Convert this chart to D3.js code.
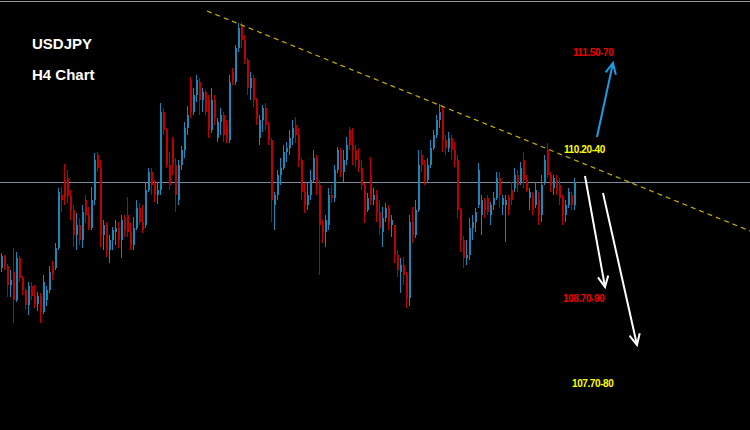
<!DOCTYPE html>
<html><head><meta charset="utf-8">
<script src="https://cdn.jsdelivr.net/npm/d3@7"></script>
<style>html,body{margin:0;padding:0;background:#000;overflow:hidden}</style>
</head><body><svg id="c" width="750" height="430"></svg>
<script>
// H4 candles: [open, high, low, close]
const candles = [
[109.32,109.47,109.28,109.44],[109.44,109.45,109.30,109.34],[109.34,109.36,109.03,109.15],[109.15,109.30,109.03,109.20],
[109.28,109.52,108.77,109.00],[109.00,109.48,108.98,109.42],[109.42,109.44,109.18,109.22],[109.22,109.24,109.05,109.10],
[109.10,109.12,108.90,108.95],[108.95,109.18,108.85,109.14],[109.14,109.18,109.00,109.04],[109.04,109.15,108.92,108.96],
[108.96,109.08,108.89,109.04],[109.04,109.07,108.77,108.88],[108.88,109.25,108.86,109.18],[109.00,109.14,108.94,109.10],
[109.10,109.34,109.07,109.28],[109.34,109.39,109.20,109.26],[109.32,109.57,109.30,109.52],[109.52,110.12,109.50,110.08],
[110.05,110.13,109.88,110.00],[110.20,110.36,109.95,110.02],[110.22,110.30,109.97,110.04],[110.04,110.10,109.80,109.90],
[109.90,109.95,109.53,109.65],[109.65,109.87,109.50,109.75],[109.75,109.82,109.55,109.60],[109.60,109.95,109.52,109.88],
[110.00,110.05,109.77,109.85],[109.85,109.93,109.70,109.72],[109.72,110.13,109.70,110.00],[110.00,110.47,109.95,110.40],
[110.45,110.48,110.28,110.32],[110.32,110.40,109.53,109.65],[109.65,109.80,109.50,109.75],[109.75,109.78,109.43,109.50],
[109.50,109.65,109.37,109.60],[109.60,109.73,109.50,109.70],[109.68,109.80,109.55,109.72],[109.72,109.78,109.52,109.60],
[109.60,109.85,109.42,109.80],[109.82,109.85,109.63,109.70],[109.85,110.03,109.63,109.68],[109.68,109.77,109.50,109.55],
[109.55,109.83,109.50,109.72],[109.72,110.00,109.70,109.92],[109.92,109.97,109.75,109.78],[109.78,109.95,109.67,109.70],
[109.75,110.17,109.72,110.10],[110.10,110.32,110.08,110.28],[110.28,110.32,110.05,110.15],[110.15,110.20,109.98,110.05],
[110.05,110.17,109.96,110.10],[110.10,110.97,110.05,110.88],[110.88,110.92,110.65,110.70],[110.70,110.72,110.32,110.35],
[110.35,110.48,110.10,110.15],[110.60,110.63,110.25,110.35],[110.35,110.42,109.88,110.05],[110.00,110.40,109.95,110.35],
[110.35,110.54,110.30,110.50],[110.50,110.78,110.42,110.72],[110.72,110.94,110.65,110.85],[111.20,111.23,110.82,110.88],
[110.88,111.12,110.85,111.05],[111.05,111.25,110.98,111.20],[111.18,111.22,110.85,111.00],[111.00,111.12,110.88,111.08],
[111.08,111.10,110.85,110.88],[111.00,111.05,110.62,110.70],[110.70,111.12,110.67,111.00],[111.00,111.05,110.75,110.82],
[110.62,110.82,110.58,110.78],[110.78,110.92,110.65,110.85],[110.85,110.88,110.58,110.65],[110.75,110.80,110.57,110.60],
[110.60,111.25,110.57,111.18],[111.28,111.32,111.15,111.18],[111.18,111.55,111.15,111.52],[111.52,111.77,111.48,111.72],
[111.74,111.78,111.52,111.60],[111.60,111.65,111.36,111.40],[111.40,111.42,111.05,111.12],[111.12,111.28,111.00,111.22],
[111.22,111.25,110.93,111.00],[111.00,111.02,110.75,110.82],[110.62,110.85,110.55,110.80],[110.80,110.95,110.68,110.92],
[110.92,110.97,110.70,110.75],[110.75,110.78,110.55,110.60],[110.60,110.62,109.78,110.00],[109.95,110.08,109.70,110.05],
[110.05,110.30,110.00,110.25],[110.25,110.42,110.15,110.32],[110.32,110.55,110.30,110.48],[110.48,110.58,110.38,110.52],
[110.52,110.70,110.45,110.62],[110.62,110.80,110.55,110.72],[110.75,110.83,110.57,110.65],[110.65,110.72,110.33,110.40],
[110.40,110.42,110.00,110.08],[110.08,110.17,109.87,109.95],[109.95,110.17,109.90,110.05],[110.05,110.30,110.00,110.20],
[110.20,110.50,110.18,110.42],[110.42,110.45,110.05,110.15],[110.15,110.20,109.25,109.75],[109.75,109.80,109.57,109.68],
[109.68,109.85,109.53,109.80],[109.75,110.12,109.70,110.05],[110.05,110.15,109.97,110.02],[110.02,110.35,109.98,110.30],
[110.30,110.53,110.27,110.50],[110.50,110.52,110.23,110.28],[110.28,110.50,110.18,110.40],[110.40,110.63,110.35,110.55],
[110.70,110.73,110.50,110.55],[110.55,110.72,110.35,110.50],[110.50,110.55,110.33,110.40],[110.40,110.52,110.28,110.32],
[110.32,110.40,110.10,110.15],[110.15,110.17,109.77,109.85],[109.90,110.07,109.88,110.02],[110.25,110.43,109.95,110.00],
[110.00,110.12,109.95,110.05],[110.05,110.10,109.78,109.88],[109.88,110.00,109.65,109.72],[109.68,109.93,109.53,109.82],
[109.82,109.97,109.78,109.92],[109.92,109.95,109.70,109.78],[109.75,109.85,109.63,109.80],[109.75,109.75,109.37,109.45],
[109.45,109.50,109.23,109.30],[109.28,109.42,109.07,109.35],[109.35,109.43,109.15,109.25],[109.25,109.28,108.92,109.02],
[109.02,109.85,108.94,109.78],[109.78,109.93,109.57,109.65],[109.65,110.00,109.62,109.90],[109.90,110.50,109.88,110.35],
[110.45,110.50,110.28,110.35],[110.35,110.40,110.15,110.20],[110.20,110.42,110.17,110.35],[110.35,110.60,110.32,110.52],
[110.52,110.70,110.50,110.65],[110.65,110.85,110.62,110.80],[110.80,110.96,110.72,110.88],[110.90,110.94,110.48,110.60],
[110.60,110.65,110.45,110.52],[110.52,110.68,110.48,110.62],[110.62,110.65,110.40,110.50],[110.50,110.58,110.33,110.40],
[110.40,110.45,109.82,109.90],[109.90,109.92,109.48,109.60],[109.60,109.64,109.32,109.42],[109.42,109.60,109.35,109.45],
[109.45,109.82,109.40,109.72],[109.72,109.85,109.60,109.78],[109.78,109.92,109.68,109.88],[109.95,110.37,109.92,110.30],
[109.85,110.05,109.65,110.00],[110.00,110.02,109.82,109.90],[110.02,110.05,109.85,109.88],[109.85,109.98,109.75,109.95],
[109.95,110.08,109.90,110.02],[110.02,110.28,110.00,110.22],[110.22,110.28,109.92,110.05],[109.95,110.05,109.85,110.02],
[109.95,110.05,109.58,110.00],[110.02,110.05,109.85,109.90],[110.10,110.18,109.95,110.00],[110.12,110.32,110.08,110.25],
[110.25,110.30,110.08,110.15],[110.18,110.38,110.15,110.32],[110.40,110.48,110.12,110.20],[110.20,110.25,110.08,110.10],
[110.02,110.12,109.90,110.08],[110.05,110.08,109.85,109.90],[109.95,110.18,109.92,110.10],[110.00,110.08,109.75,109.85],
[109.85,110.25,109.78,110.15],[110.18,110.45,110.15,110.40],[110.50,110.57,110.22,110.25],[110.25,110.28,110.08,110.15],
[110.12,110.25,110.05,110.22],[110.20,110.25,110.05,110.10],[110.15,110.22,109.95,110.02],[110.02,110.05,109.75,109.85],
[109.85,110.00,109.78,109.95],[109.95,110.12,109.92,110.08],[110.05,110.08,109.90,109.95],[109.95,110.22,109.90,110.18]
];
// falling resistance trendline: [bar index, price]
const trendline = [[68.5, 111.89], [249.5, 109.69]];
const currentPrice = 110.18;
const titleLines = ["USDJPY", "H4 Chart"];
const levelLabels = ["111.50-70", "110.20-40", "108.70-90", "107.70-80"];
// projection arrows: [bar index, price] from -> to
const arrowPaths = [
  [[198.5, 110.63], [203.83, 111.37]],
  [[194.5, 110.24], [201.17, 109.13]],
  [[200.5, 110.07], [211.83, 108.55]]
];

const W = 750, H = 430;
const svg = d3.select("#c");
svg.append("rect").attr("width", W).attr("height", H).attr("fill", "#000");

const x = d3.scaleLinear().domain([-0.5, 249.5]).range([0, W]);
const y = d3.scaleLinear().domain([112.0, 107.7]).range([0, H]);

// top border
svg.append("line").attr("x1", 0).attr("x2", W).attr("y1", 1.5).attr("y2", 1.5)
  .attr("stroke", "#9a9a9a").attr("stroke-width", 1);

// current price line
svg.append("line").attr("x1", 0).attr("x2", W)
  .attr("y1", Math.round(y(currentPrice)) + 0.5).attr("y2", Math.round(y(currentPrice)) + 0.5)
  .attr("stroke", "#7d8c9c").attr("stroke-width", 1);

const up = "#1b86b8", dn = "#c00000";
const g = svg.append("g");
const cg = g.selectAll("g.c").data(candles).join("g").attr("class", "c");
cg.append("line")
  .attr("x1", (d, i) => Math.floor(x(i)) + 0.5).attr("x2", (d, i) => Math.floor(x(i)) + 0.5)
  .attr("y1", d => y(d[1])).attr("y2", d => y(d[2]))
  .attr("stroke", d => d[3] >= d[0] ? up : dn).attr("stroke-width", 1);
cg.append("rect")
  .attr("x", (d, i) => Math.floor(x(i)))
  .attr("width", 2)
  .attr("y", d => y(Math.max(d[0], d[3])))
  .attr("height", d => Math.max(1, Math.abs(y(d[0]) - y(d[3]))))
  .attr("fill", d => d[3] >= d[0] ? up : dn);

// trendline
svg.append("line")
  .attr("x1", x(trendline[0][0])).attr("y1", y(trendline[0][1]))
  .attr("x2", x(trendline[1][0])).attr("y2", y(trendline[1][1]))
  .attr("stroke", "#c2b000").attr("stroke-width", 1.2).attr("stroke-dasharray", "5,4");

// arrows
const arrowColors = ["#1e9be2", "#ffffff", "#ffffff"];
arrowPaths.forEach((p, k) => {
  const x1 = x(p[0][0]), y1 = y(p[0][1]), x2 = x(p[1][0]), y2 = y(p[1][1]);
  const ang = Math.atan2(y2 - y1, x2 - x1);
  const L = 12, a = 0.45;
  svg.append("line").attr("x1", x1).attr("y1", y1).attr("x2", x2).attr("y2", y2)
    .attr("stroke", arrowColors[k]).attr("stroke-width", 2);
  const hp = [[x2 - L * Math.cos(ang - a), y2 - L * Math.sin(ang - a)], [x2, y2],
              [x2 - L * Math.cos(ang + a), y2 - L * Math.sin(ang + a)]];
  svg.append("polyline").attr("points", hp.map(q => q.join(",")).join(" "))
    .attr("fill", "none").attr("stroke", arrowColors[k]).attr("stroke-width", 2)
    .attr("stroke-linejoin", "miter");
});

// titles
const titlePos = [[32, 49], [32, 80]];
svg.selectAll("text.t").data(titleLines).join("text").attr("class", "t")
  .attr("x", (d, i) => titlePos[i][0]).attr("y", (d, i) => titlePos[i][1])
  .attr("fill", "#fff").attr("font-family", "Liberation Sans, Arial, sans-serif")
  .attr("font-weight", "bold").attr("font-size", 15).text(d => d);

// level labels
const labelPos = [[573, 56], [564, 152.5], [563, 302], [572, 387]];
const labelColors = ["#ee0000", "#ffff00", "#ee0000", "#ffff00"];
svg.selectAll("text.l").data(levelLabels).join("text").attr("class", "l")
  .attr("x", (d, i) => labelPos[i][0]).attr("y", (d, i) => labelPos[i][1])
  .attr("fill", (d, i) => labelColors[i])
  .attr("font-family", "Liberation Sans, Arial, sans-serif")
  .attr("font-weight", "bold").attr("font-size", 10).attr("letter-spacing", -0.4).text(d => d);
</script></body></html>
